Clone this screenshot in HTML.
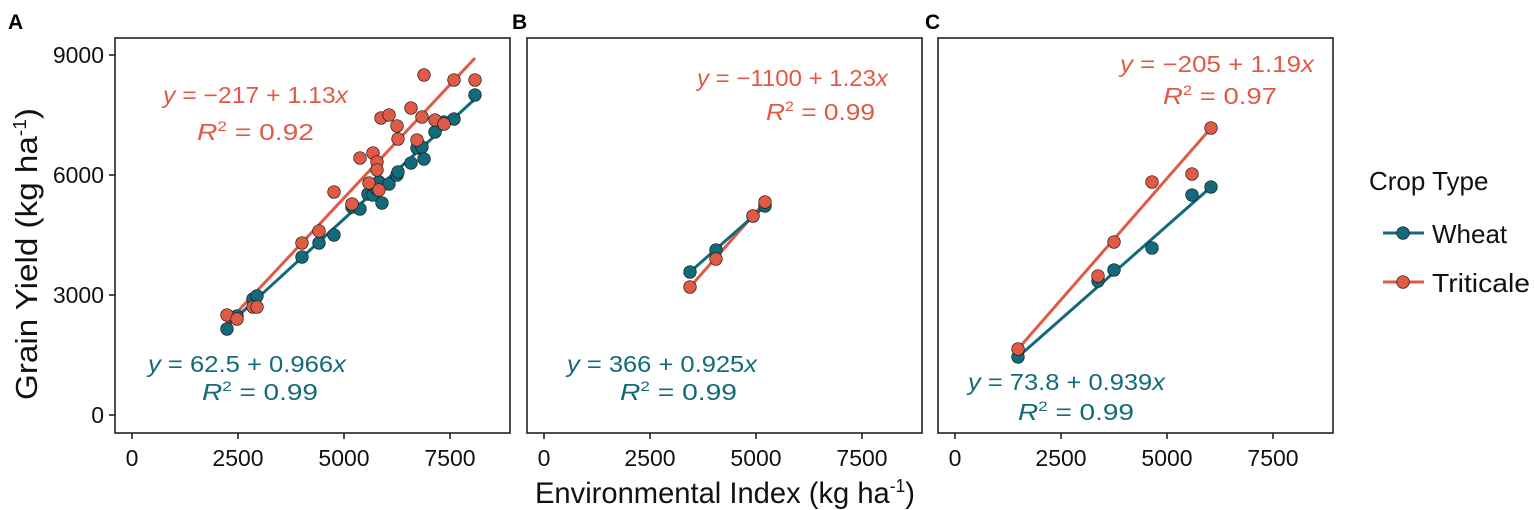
<!DOCTYPE html>
<html><head><meta charset="utf-8"><style>
html,body{margin:0;padding:0;background:#fff;}
svg{display:block;font-family:"Liberation Sans",sans-serif;}
.t{font-size:23px;fill:#111;}
.r{fill:#E05A45;} .w{fill:#136A7A;}
.eq{font-size:23px;}
</style></head><body>
<svg width="1535" height="510" viewBox="0 0 1535 510" xmlns="http://www.w3.org/2000/svg">
<text x="8" y="29" font-size="21" font-weight="bold">A</text>
<text x="512" y="29" font-size="21" font-weight="bold">B</text>
<text x="925" y="29" font-size="21" font-weight="bold">C</text>

<g fill="none" stroke="#222" stroke-width="1.6">
<rect x="115" y="38" width="395" height="395"/>
<rect x="527" y="38" width="395" height="395"/>
<rect x="938" y="38" width="395" height="395"/>
</g>
<g stroke="#222" stroke-width="1.6">
<line x1="109" y1="55" x2="115" y2="55"/><line x1="109" y1="175" x2="115" y2="175"/>
<line x1="109" y1="295" x2="115" y2="295"/><line x1="109" y1="415" x2="115" y2="415"/>
<line x1="132" y1="433" x2="132" y2="439"/><line x1="238" y1="433" x2="238" y2="439"/><line x1="344" y1="433" x2="344" y2="439"/><line x1="450" y1="433" x2="450" y2="439"/>
<line x1="544" y1="433" x2="544" y2="439"/><line x1="650" y1="433" x2="650" y2="439"/><line x1="756" y1="433" x2="756" y2="439"/><line x1="862" y1="433" x2="862" y2="439"/>
<line x1="955" y1="433" x2="955" y2="439"/><line x1="1061" y1="433" x2="1061" y2="439"/><line x1="1167" y1="433" x2="1167" y2="439"/><line x1="1273" y1="433" x2="1273" y2="439"/>
</g>
<g class="t" text-anchor="end">
<text x="104" y="63">9000</text><text x="104" y="183">6000</text><text x="104" y="303">3000</text><text x="104" y="423">0</text>
</g>
<g class="t" text-anchor="middle">
<text x="132" y="466">0</text><text x="238" y="466">2500</text><text x="344" y="466">5000</text><text x="450" y="466">7500</text>
<text x="544" y="466">0</text><text x="650" y="466">2500</text><text x="756" y="466">5000</text><text x="862" y="466">7500</text>
<text x="955" y="466">0</text><text x="1061" y="466">2500</text><text x="1167" y="466">5000</text><text x="1273" y="466">7500</text>
</g>
<text transform="translate(37,254) rotate(-90)" text-anchor="middle" font-size="31" fill="#111" textLength="292" lengthAdjust="spacingAndGlyphs">Grain Yield (kg ha<tspan dy="-11" font-size="18">-1</tspan><tspan dy="11">)</tspan></text>
<text x="725" y="503" text-anchor="middle" font-size="30" fill="#111" textLength="380" lengthAdjust="spacingAndGlyphs">Environmental Index (kg ha<tspan dy="-11" font-size="18">-1</tspan><tspan dy="11">)</tspan></text>

<line x1="226" y1="324" x2="475" y2="58" stroke="#E05A45" stroke-width="3"/>
<line x1="226" y1="327" x2="475" y2="99" stroke="#136A7A" stroke-width="3"/>
<g class="w" stroke="#1a1a1a" stroke-width="0.7">
<circle cx="227" cy="329" r="6.3"/><circle cx="237" cy="316" r="6.3"/><circle cx="253" cy="299" r="6.3"/><circle cx="257" cy="296" r="6.3"/>
<circle cx="302" cy="257" r="6.3"/><circle cx="319" cy="243" r="6.3"/><circle cx="334" cy="235" r="6.3"/><circle cx="352" cy="207" r="6.3"/>
<circle cx="360" cy="209" r="6.3"/><circle cx="368" cy="194" r="6.3"/><circle cx="373" cy="195" r="6.3"/><circle cx="376" cy="188" r="6.3"/>
<circle cx="379" cy="182" r="6.3"/><circle cx="382" cy="203" r="6.3"/><circle cx="389" cy="184" r="6.3"/><circle cx="397" cy="175" r="6.3"/>
<circle cx="398" cy="172" r="6.3"/><circle cx="411" cy="163" r="6.3"/><circle cx="417" cy="148" r="6.3"/><circle cx="422" cy="147" r="6.3"/>
<circle cx="424" cy="159" r="6.3"/><circle cx="435" cy="132" r="6.3"/><circle cx="444" cy="122" r="6.3"/><circle cx="454" cy="119" r="6.3"/><circle cx="475" cy="95" r="6.3"/>
</g>
<g class="r" stroke="#1a1a1a" stroke-width="0.7">
<circle cx="227" cy="315" r="6.3"/><circle cx="237" cy="319" r="6.3"/><circle cx="253" cy="307" r="6.3"/><circle cx="257" cy="307" r="6.3"/>
<circle cx="302" cy="243" r="6.3"/><circle cx="319" cy="231" r="6.3"/><circle cx="334" cy="192" r="6.3"/><circle cx="352" cy="204" r="6.3"/>
<circle cx="360" cy="158" r="6.3"/><circle cx="369" cy="183" r="6.3"/><circle cx="373" cy="153" r="6.3"/><circle cx="377" cy="162" r="6.3"/>
<circle cx="377" cy="170" r="6.3"/><circle cx="379" cy="190" r="6.3"/><circle cx="381" cy="118" r="6.3"/><circle cx="389" cy="115" r="6.3"/>
<circle cx="397" cy="126" r="6.3"/><circle cx="398" cy="139" r="6.3"/><circle cx="411" cy="108" r="6.3"/><circle cx="417" cy="140" r="6.3"/>
<circle cx="422" cy="117" r="6.3"/><circle cx="424" cy="75" r="6.3"/><circle cx="435" cy="120" r="6.3"/><circle cx="444" cy="124" r="6.3"/>
<circle cx="454" cy="80" r="6.3"/><circle cx="475" cy="80" r="6.3"/>
</g>

<line x1="690" y1="287" x2="765" y2="202" stroke="#E05A45" stroke-width="3"/>
<line x1="690" y1="272" x2="765" y2="206" stroke="#136A7A" stroke-width="3"/>
<g class="w" stroke="#1a1a1a" stroke-width="0.7">
<circle cx="690" cy="272" r="6.3"/><circle cx="716" cy="250" r="6.3"/><circle cx="753" cy="216" r="6.3"/><circle cx="765" cy="206" r="6.3"/>
</g>
<g class="r" stroke="#1a1a1a" stroke-width="0.7">
<circle cx="690" cy="287" r="6.3"/><circle cx="716" cy="259" r="6.3"/><circle cx="753" cy="216" r="6.3"/><circle cx="765" cy="202" r="6.3"/>
</g>

<line x1="1018" y1="349" x2="1211" y2="128" stroke="#E05A45" stroke-width="3"/>
<line x1="1018" y1="357" x2="1211" y2="187" stroke="#136A7A" stroke-width="3"/>
<g class="w" stroke="#1a1a1a" stroke-width="0.7">
<circle cx="1018" cy="357" r="6.3"/><circle cx="1098" cy="281" r="6.3"/><circle cx="1114" cy="270" r="6.3"/><circle cx="1152" cy="248" r="6.3"/><circle cx="1192" cy="195" r="6.3"/><circle cx="1211" cy="187" r="6.3"/>
</g>
<g class="r" stroke="#1a1a1a" stroke-width="0.7">
<circle cx="1018" cy="349" r="6.3"/><circle cx="1098" cy="276" r="6.3"/><circle cx="1114" cy="242" r="6.3"/><circle cx="1152" cy="182" r="6.3"/><circle cx="1192" cy="174" r="6.3"/><circle cx="1211" cy="128" r="6.3"/>
</g>

<g class="eq">
<text class="r" x="163" y="103" textLength="185" lengthAdjust="spacingAndGlyphs"><tspan font-style="italic">y</tspan> =  −217 + 1.13<tspan font-style="italic">x</tspan></text>
<text class="r" x="197" y="140" textLength="117" lengthAdjust="spacingAndGlyphs"><tspan font-style="italic">R</tspan><tspan dy="-9" font-size="14">2</tspan><tspan dy="9">  =  0.92</tspan></text>
<text class="w" x="148" y="372" textLength="198" lengthAdjust="spacingAndGlyphs"><tspan font-style="italic">y</tspan>  =  62.5 + 0.966<tspan font-style="italic">x</tspan></text>
<text class="w" x="202" y="400" textLength="116" lengthAdjust="spacingAndGlyphs"><tspan font-style="italic">R</tspan><tspan dy="-9" font-size="14">2</tspan><tspan dy="9">  =  0.99</tspan></text>

<text class="r" x="697" y="86" textLength="191" lengthAdjust="spacingAndGlyphs"><tspan font-style="italic">y</tspan> = −1100 + 1.23<tspan font-style="italic">x</tspan></text>
<text class="r" x="766" y="120" textLength="109" lengthAdjust="spacingAndGlyphs"><tspan font-style="italic">R</tspan><tspan dy="-9" font-size="14">2</tspan><tspan dy="9">  = 0.99</tspan></text>
<text class="w" x="567" y="372" textLength="190" lengthAdjust="spacingAndGlyphs"><tspan font-style="italic">y</tspan>  =  366 + 0.925<tspan font-style="italic">x</tspan></text>
<text class="w" x="620" y="400" textLength="117" lengthAdjust="spacingAndGlyphs"><tspan font-style="italic">R</tspan><tspan dy="-9" font-size="14">2</tspan><tspan dy="9">  =  0.99</tspan></text>

<text class="r" x="1120" y="72" textLength="194" lengthAdjust="spacingAndGlyphs"><tspan font-style="italic">y</tspan>  =  −205 + 1.19<tspan font-style="italic">x</tspan></text>
<text class="r" x="1163" y="104" textLength="114" lengthAdjust="spacingAndGlyphs"><tspan font-style="italic">R</tspan><tspan dy="-9" font-size="14">2</tspan><tspan dy="9">  =  0.97</tspan></text>
<text class="w" x="968" y="390" textLength="197" lengthAdjust="spacingAndGlyphs"><tspan font-style="italic">y</tspan>  =  73.8 + 0.939<tspan font-style="italic">x</tspan></text>
<text class="w" x="1018" y="420" textLength="116" lengthAdjust="spacingAndGlyphs"><tspan font-style="italic">R</tspan><tspan dy="-9" font-size="14">2</tspan><tspan dy="9">  =  0.99</tspan></text>
</g>

<text x="1369" y="190" font-size="26" fill="#111">Crop Type</text>
<line x1="1383" y1="233" x2="1424" y2="233" stroke="#136A7A" stroke-width="3"/>
<circle cx="1403" cy="233" r="6.3" class="w" stroke="#1a1a1a" stroke-width="0.7"/>
<text x="1432" y="243" font-size="26" fill="#111">Wheat</text>
<line x1="1383" y1="282" x2="1424" y2="282" stroke="#E05A45" stroke-width="3"/>
<circle cx="1403" cy="282" r="6.3" class="r" stroke="#1a1a1a" stroke-width="0.7"/>
<text x="1432" y="292" font-size="26" fill="#111" textLength="98" lengthAdjust="spacingAndGlyphs">Triticale</text>
</svg>
</body></html>
